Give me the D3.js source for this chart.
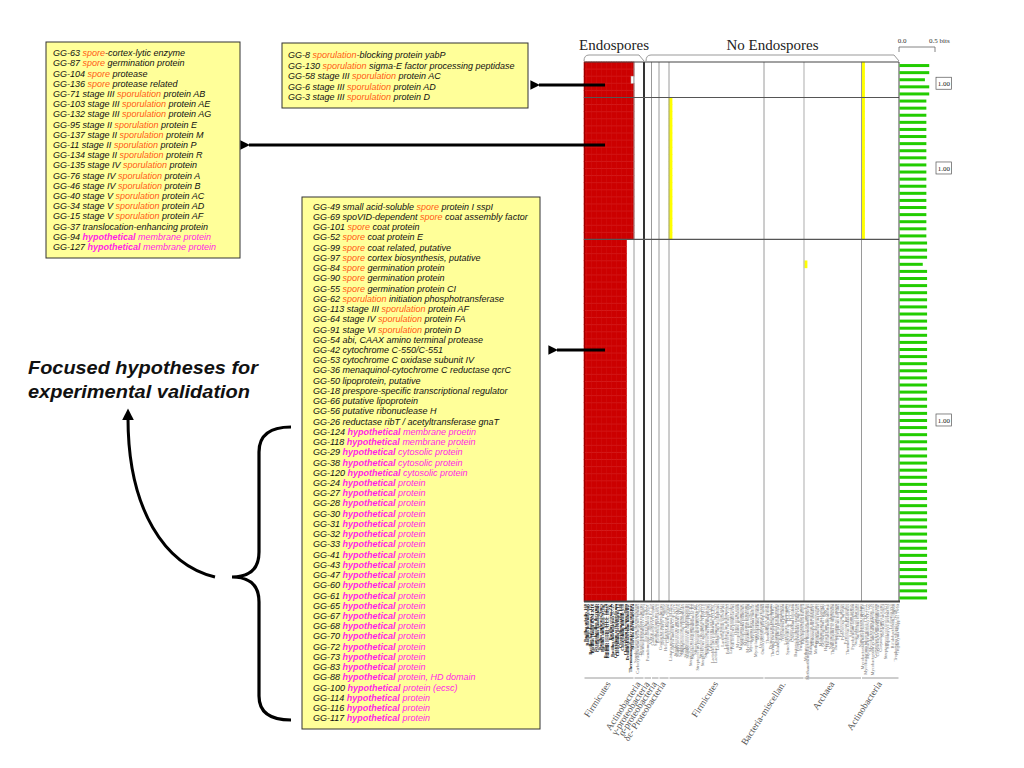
<!DOCTYPE html>
<html>
<head>
<meta charset="utf-8">
<script src="https://cdn.jsdelivr.net/npm/d3@7"></script>
<style>
  body { margin: 0; background: #fff; }
  text { white-space: pre; }
</style>
</head>
<body>
<div id="chart"></div>
<script>
// Gene groups (rows of the profile, top to bottom)
const topBoxGenes = [
  'GG-8 sporulation-blocking protein yabP',
  'GG-130 sporulation sigma-E factor processing peptidase',
  'GG-58 stage III sporulation protein AC',
  'GG-6 stage III sporulation protein AD',
  'GG-3 stage III sporulation protein D',
];
const leftBoxGenes = [
  'GG-63 spore-cortex-lytic enzyme',
  'GG-87 spore germination protein',
  'GG-104 spore protease',
  'GG-136 spore protease related',
  'GG-71 stage III sporulation protein AB',
  'GG-103 stage III sporulation protein AE',
  'GG-132 stage III sporulation protein AG',
  'GG-95 stage II sporulation protein E',
  'GG-137 stage II sporulation protein M',
  'GG-11 stage II sporulation protein P',
  'GG-134 stage II sporulation protein R',
  'GG-135 stage IV sporulation protein',
  'GG-76 stage IV sporulation protein A',
  'GG-46 stage IV sporulation protein B',
  'GG-40 stage V sporulation protein AC',
  'GG-34 stage V sporulation protein AD',
  'GG-15 stage V sporulation protein AF',
  'GG-37 translocation-enhancing protein',
  'GG-94 hypothetical membrane protein',
  'GG-127 hypothetical membrane protein',
];
const bigBoxGenes = [
  'GG-49 small acid-soluble spore protein I sspI',
  'GG-69 spoVID-dependent spore coat assembly factor',
  'GG-101 spore coat protein',
  'GG-52 spore coat protein E',
  'GG-99 spore coat related, putative',
  'GG-97 spore cortex biosynthesis, putative',
  'GG-84 spore germination protein',
  'GG-90 spore germination protein',
  'GG-55 spore germination protein CI',
  'GG-62 sporulation initiation phosphotransferase',
  'GG-113 stage III sporulation protein AF',
  'GG-64 stage IV sporulation protein FA',
  'GG-91 stage VI sporulation protein D',
  'GG-54 abi, CAAX amino terminal protease',
  'GG-42 cytochrome C-550/C-551',
  'GG-53 cytochrome C oxidase subunit IV',
  'GG-36 menaquinol-cytochrome C reductase qcrC',
  'GG-50 lipoprotein, putative',
  'GG-18 prespore-specific transcriptional regulator',
  'GG-66 putative lipoprotein',
  'GG-56 putative ribonuclease H',
  'GG-26 reductase ribT / acetyltransferase gnaT',
  'GG-124 hypothetical membrane proetin',
  'GG-118 hypothetical membrane protein',
  'GG-29 hypothetical cytosolic protein',
  'GG-38 hypothetical cytosolic protein',
  'GG-120 hypothetical cytosolic protein',
  'GG-24 hypothetical protein',
  'GG-27 hypothetical protein',
  'GG-28 hypothetical protein',
  'GG-30 hypothetical protein',
  'GG-31 hypothetical protein',
  'GG-32 hypothetical protein',
  'GG-33 hypothetical protein',
  'GG-41 hypothetical protein',
  'GG-43 hypothetical protein',
  'GG-47 hypothetical protein',
  'GG-60 hypothetical protein',
  'GG-61 hypothetical protein',
  'GG-65 hypothetical protein',
  'GG-67 hypothetical protein',
  'GG-68 hypothetical protein',
  'GG-70 hypothetical protein',
  'GG-72 hypothetical protein',
  'GG-73 hypothetical protein',
  'GG-83 hypothetical protein',
  'GG-88 hypothetical protein, HD domain',
  'GG-100 hypothetical protein (ecsc)',
  'GG-114 hypothetical protein',
  'GG-116 hypothetical protein',
  'GG-117 hypothetical protein',
];

// Specificity (bits) per gene, same order as rows
const topBits = [0.42, 0.42, 0.36, 0.42, 0.42];
const leftBits = [0.38, 0.38, 0.38, 0.38, 0.38, 0.38, 0.38, 0.38, 0.38, 0.38,
  0.38, 0.38, 0.38, 0.38, 0.38, 0.38, 0.38, 0.38, 0.38, 0.38];
const bigBits = [0.39, 0.39, 0.39, 0.33, 0.39, 0.39, 0.39, 0.39, 0.39, 0.39,
  0.39, 0.39, 0.39, 0.39, 0.39, 0.39, 0.39, 0.39, 0.39, 0.39,
  0.39, 0.39, 0.39, 0.39, 0.39, 0.39, 0.39, 0.39, 0.39, 0.39,
  0.39, 0.39, 0.39, 0.39, 0.39, 0.39, 0.39, 0.39, 0.39, 0.39,
  0.39, 0.39, 0.39, 0.39, 0.39, 0.39, 0.39, 0.39, 0.39, 0.39, 0.39];
const sectionScore = ['1.00', '1.00', '1.00'];

// Genomes (columns), by taxonomic group
const groupNames = ['Firmicutes', 'Actinobacteria', 'γ-proteobacteria', 'α-proteobacteria',
  'δε- Proteobacteria', 'Firmicutes', 'Bacteria-miscellan.', 'Archaea', 'Actinobacteria'];
const groupEndospore = [true, true, false, false, false, false, false, false, false];
const groupGenomes = [
  ['Bacillus subtilis 168', 'Bacillus licheniformis', 'Bacillus halodurans C-125', 'Bacillus clausii KSM-K16',
    'Oceanobacillus iheyensis', 'Geobacillus kaustophilus', 'Bacillus anthracis Ames', 'Bacillus anthracis Sterne',
    'Bacillus cereus ATCC 14579', 'Bacillus cereus ATCC 10987', 'Bacillus cereus ZK', 'Bacillus thuringiensis 97-27',
    'Clostridium acetobutylicum', 'Clostridium perfringens 13', 'Clostridium tetani E88', 'Clostridium difficile 630',
    'Clostridium thermocellum', 'Desulfitobacterium hafniense', 'Thermoanaerobacter tengcongensis', 'Moorella thermoacetica'],
  ['Symbiobacterium thermophilum', 'Carboxydothermus hydrogenoformans', 'Desulfotomaculum reducens', 'Thermoactinomyces vulgaris'],
  ['Escherichia coli K12', 'Pseudomonas aeruginosa PAO1', 'Vibrio cholerae El Tor'],
  ['Caulobacter crescentus', 'Sinorhizobium meliloti', 'Rickettsia prowazekii'],
  ['Geobacter sulfurreducens', 'Desulfovibrio vulgaris', 'Helicobacter pylori 26695', 'Campylobacter jejuni'],
  ['Listeria monocytogenes EGD-e', 'Listeria innocua Clip11262', 'Staphylococcus aureus N315', 'Staphylococcus aureus Mu50',
    'Staphylococcus aureus MW2', 'Staphylococcus epidermidis', 'Staphylococcus haemolyticus', 'Staphylococcus saprophyticus',
    'Streptococcus pneumoniae TIGR4', 'Streptococcus pneumoniae R6', 'Streptococcus pyogenes M1', 'Streptococcus pyogenes MGAS8232',
    'Streptococcus agalactiae 2603', 'Streptococcus agalactiae NEM316', 'Streptococcus mutans UA159', 'Streptococcus thermophilus',
    'Lactococcus lactis IL1403', 'Lactobacillus plantarum WCFS1', 'Lactobacillus johnsonii NCC533', 'Lactobacillus acidophilus',
    'Lactobacillus sakei', 'Lactobacillus salivarius', 'Lactobacillus delbrueckii', 'Enterococcus faecalis V583',
    'Leuconostoc mesenteroides', 'Pediococcus pentosaceus', 'Oenococcus oeni', 'Mycoplasma genitalium',
    'Mycoplasma pneumoniae', 'Mycoplasma pulmonis', 'Mycoplasma penetrans', 'Mycoplasma gallisepticum',
    'Mycoplasma mycoides SC', 'Mycoplasma mobile', 'Mycoplasma hyopneumoniae', 'Mesoplasma florum',
    'Ureaplasma urealyticum', 'Onion yellows phytoplasma'],
  ['Aquifex aeolicus', 'Thermotoga maritima', 'Deinococcus radiodurans', 'Thermus thermophilus HB27',
    'Chlamydia trachomatis', 'Chlamydophila pneumoniae', 'Borrelia burgdorferi', 'Treponema pallidum',
    'Leptospira interrogans', 'Synechocystis sp. PCC6803', 'Nostoc sp. PCC7120', 'Chlorobium tepidum',
    'Bacteroides thetaiotaomicron', 'Porphyromonas gingivalis', 'Fusobacterium nucleatum', 'Rhodopirellula baltica'],
  ['Methanocaldococcus jannaschii', 'Methanothermobacter thermautotrophicus', 'Methanococcus maripaludis', 'Methanopyrus kandleri',
    'Methanosarcina acetivorans', 'Methanosarcina mazei', 'Methanosarcina barkeri', 'Archaeoglobus fulgidus',
    'Halobacterium sp. NRC-1', 'Haloarcula marismortui', 'Natronomonas pharaonis', 'Thermoplasma acidophilum',
    'Thermoplasma volcanium', 'Picrophilus torridus', 'Pyrococcus abyssi', 'Pyrococcus furiosus',
    'Pyrococcus horikoshii', 'Thermococcus kodakarensis', 'Aeropyrum pernix', 'Pyrobaculum aerophilum',
    'Sulfolobus solfataricus', 'Sulfolobus tokodaii', 'Nanoarchaeum equitans'],
  ['Mycobacterium tuberculosis H37Rv', 'Mycobacterium tuberculosis CDC1551', 'Mycobacterium bovis AF2122', 'Mycobacterium leprae TN',
    'Mycobacterium avium paratuberculosis', 'Corynebacterium glutamicum', 'Corynebacterium diphtheriae', 'Corynebacterium efficiens',
    'Nocardia farcinica', 'Streptomyces coelicolor A3(2)', 'Streptomyces avermitilis', 'Leifsonia xyli',
    'Bifidobacterium longum', 'Tropheryma whipplei TW08/27', 'Tropheryma whipplei Twist'],
];

// Profile: genome presence per section (number of leading genomes that share the gene)
const sectionPresentCols = [20, 20, 17];
// extra hits outside the endospore group: [firstRow, lastRow, column]
const yellowRuns = [[5, 24, 34], [0, 24, 111], [28, 28, 88]];
// missing hits inside the endospore block: [row, column]
const missingCells = [[2, 19]];

const ORANGE = '#ff5a14';
const MAGENTA = '#ff1ee6';
const RED = '#cc0000';
const YELLOW = '#ffff00';
const GREEN = '#22cc00';

const W = 1024;
const H = 768;
const svg = d3.select('#chart').append('svg')
  .attr('width', W)
  .attr('height', H);
svg.append('rect').attr('width', W).attr('height', H).attr('fill', '#fff');

// ---------- heat map ----------
const sections = [topBoxGenes, leftBoxGenes, bigBoxGenes];
const rows = [];
sections.forEach((genes, s) => genes.forEach((g) => rows.push({ gene: g, section: s })));
const bits = topBits.concat(leftBits, bigBits);

const columns = [];
groupGenomes.forEach((list, gi) => list.forEach((name) => columns.push({ name, group: gi })));

const x = d3.scaleBand().domain(d3.range(columns.length)).range([584, 899]);
const y = d3.scaleBand().domain(d3.range(rows.length)).range([62, 601.5]);
const xBits = d3.scaleLinear().domain([0, 0.5]).range([899, 935]);

const cells = [];
rows.forEach((r, ri) => {
  for (let c = 0; c < sectionPresentCols[r.section]; c += 1) {
    if (!missingCells.some(m => m[0] === ri && m[1] === c)) cells.push({ r: ri, c, color: RED });
  }
});
yellowRuns.forEach(([r0, r1, c]) => {
  for (let r = r0; r <= r1; r += 1) cells.push({ r, c, color: YELLOW });
});

const heat = svg.append('g');

heat.selectAll('.cell')
  .data(cells)
  .enter()
  .append('rect')
  .attr('x', d => x(d.c) - 0.3)
  .attr('y', d => y(d.r) - 0.3)
  .attr('width', d => x.bandwidth() + (d.color === YELLOW ? 1.2 : 0.6))
  .attr('height', y.bandwidth() + 0.6)
  .attr('fill', d => d.color);

// faint row separators inside the red block
heat.selectAll('.sep')
  .data(rows.slice(1).map((r, i) => ({ r: i + 1, section: r.section })))
  .enter()
  .append('line')
  .attr('x1', x(0))
  .attr('x2', d => x(0) + x.bandwidth() * sectionPresentCols[d.section])
  .attr('y1', d => y(d.r))
  .attr('y2', d => y(d.r))
  .style('stroke', '#e04848')
  .style('stroke-opacity', 0.6)
  .style('stroke-width', '0.5px');

// missing cells drawn as small outlined boxes
heat.selectAll('.miss')
  .data(missingCells)
  .enter()
  .append('rect')
  .attr('x', d => x(d[1]) - 0.5)
  .attr('y', d => y(d[0]))
  .attr('width', x.bandwidth())
  .attr('height', y.bandwidth())
  .attr('fill', '#fff')
  .attr('stroke', '#bbb')
  .attr('stroke-width', 0.5);

heat.append('line')
  .attr('x1', 584.5).attr('x2', 584.5).attr('y1', 62).attr('y2', 601)
  .style('stroke', '#990000').style('stroke-width', '1px');

// group boundaries (vertical)
let acc = 0;
const bounds = [];
groupGenomes.forEach((list, gi) => {
  acc += list.length;
  if (gi < groupGenomes.length - 1) bounds.push({ col: acc, gi });
});
heat.selectAll('.vb')
  .data(bounds)
  .enter()
  .append('line')
  .attr('x1', d => x(d.col))
  .attr('x2', d => x(d.col))
  .attr('y1', 62)
  .attr('y2', 601)
  .style('stroke', d => (groupEndospore[d.gi] && !groupEndospore[d.gi + 1] ? '#000' : (d.gi === 6 ? '#c4c4c4' : '#9a9a9a')))
  .style('stroke-width', d => (groupEndospore[d.gi] && !groupEndospore[d.gi + 1] ? '1.6px' : (d.gi === 6 ? '1.4px' : '1px')));

// section dividers
const sectionStarts = [0, topBoxGenes.length, topBoxGenes.length + leftBoxGenes.length];
heat.selectAll('.hb')
  .data(sectionStarts.slice(1))
  .enter()
  .append('line')
  .attr('x1', 584).attr('x2', 899)
  .attr('y1', d => y(d)).attr('y2', d => y(d))
  .style('stroke', '#555').style('stroke-width', '1.2px');

// frame
heat.append('line').attr('x1', 584).attr('x2', 899).attr('y1', 62).attr('y2', 62)
  .style('stroke', '#444').style('stroke-width', '1.2px');
heat.append('line').attr('x1', 584).attr('x2', 900).attr('y1', 601.5).attr('y2', 601.5)
  .style('stroke', '#444').style('stroke-width', '2px');
heat.append('line').attr('x1', 899).attr('x2', 899).attr('y1', 62).attr('y2', 601)
  .style('stroke', '#444').style('stroke-width', '1px');

// specificity bars
svg.selectAll('.bit')
  .data(bits)
  .enter()
  .append('rect')
  .attr('x', 899.5)
  .attr('y', (d, i) => y(i) + y.bandwidth() / 2 - 1.5)
  .attr('width', d => xBits(d) - 899.5)
  .attr('height', 3)
  .attr('fill', GREEN);

// bits scale
const scaleG = svg.append('g').attr('transform', 'translate(0,47)');
scaleG.append('line').attr('x1', xBits(0)).attr('x2', xBits(0.5)).style('stroke', '#666').style('stroke-width', '0.8px');
scaleG.selectAll('.tk').data([0, 0.5]).enter().append('line')
  .attr('x1', d => xBits(d)).attr('x2', d => xBits(d)).attr('y1', 0).attr('y2', 5)
  .style('stroke', '#666').style('stroke-width', '0.8px');
scaleG.append('text').attr('x', xBits(0) + 3).attr('y', -4).attr('text-anchor', 'middle')
  .style('font-family', 'Liberation Serif').style('font-size', '7px').attr('fill', '#333').text('0.0');
scaleG.append('text').attr('x', xBits(0.5) - 6).attr('y', -4)
  .style('font-family', 'Liberation Serif').style('font-size', '7px').attr('fill', '#333').text('0.5 bits');

// per-section score boxes
sectionScore.forEach((s, i) => {
  const r0 = sectionStarts[i];
  const r1 = r0 + sections[i].length;
  const cy = (y(r0) + y(r1 - 1) + y.bandwidth()) / 2 + (i === 0 ? 4 : 0);
  svg.append('rect').attr('x', 936).attr('y', cy - 6.5).attr('width', 15.5).attr('height', 12)
    .attr('fill', '#fff').attr('stroke', '#555').attr('stroke-width', 0.7);
  svg.append('text').attr('x', 943.8).attr('y', cy + 2.5).attr('text-anchor', 'middle')
    .style('font-family', 'Liberation Serif').style('font-size', '7px').attr('fill', '#222').text(s);
});

// header with braces
const endoCols = d3.sum(groupGenomes.filter((g, i) => groupEndospore[i]), g => g.length);
const braces = [
  { label: 'Endospores', x0: x(0), x1: x(endoCols) },
  { label: 'No Endospores', x0: x(endoCols) + 2, x1: 899 },
];
braces.forEach((b) => {
  svg.append('path')
    .attr('d', `M${b.x0},61 Q${b.x0},55 ${b.x0 + 5},55 L${b.x1 - 5},55 L${b.x1},61`)
    .attr('fill', 'none').attr('stroke', '#999').attr('stroke-width', 1);
  svg.append('text').attr('x', (b.x0 + b.x1) / 2).attr('y', 50).attr('text-anchor', 'middle')
    .style('font-family', 'Liberation Serif').style('font-size', '15px').attr('fill', '#222').text(b.label);
});

// genome labels
svg.selectAll('.gl')
  .data(columns)
  .enter()
  .append('text')
  .attr('transform', (d, i) => `translate(${x(i) + x.bandwidth() / 2 + 1.5},604) rotate(-90)`)
  .attr('text-anchor', 'end')
  .style('font-family', 'Liberation Serif')
  .style('font-size', '4.5px')
  .style('font-weight', d => (d.group === 0 ? 'bold' : 'normal'))
  .attr('fill', d => (d.group === 0 ? '#111' : '#777'))
  .text(d => d.name);

// group underline and labels
let start = 0;
groupGenomes.forEach((list, gi) => {
  const gx0 = x(start);
  const gx1 = x(start + list.length - 1) + x.bandwidth();
  start += list.length;
  svg.append('line').attr('x1', gx0 + 0.5).attr('x2', gx1 - 0.5).attr('y1', 678).attr('y2', 678)
    .style('stroke', '#9a9a9a').style('stroke-width', '1px');
  svg.append('text')
    .attr('transform', `translate(${(gx0 + gx1) / 2 + 2},684) rotate(-57)`)
    .attr('text-anchor', 'end')
    .style('font-family', 'Liberation Serif')
    .style('font-size', '9.5px')
    .attr('fill', '#555')
    .text(groupNames[gi]);
});

// ---------- annotation boxes ----------
function geneLine(g, tx, ty, label) {
  const m = label.match(/^(GG-\d+ )(.*)$/);
  const t = g.append('text').attr('x', tx).attr('y', ty);
  t.append('tspan').attr('fill', '#111').text(m[1]);
  const rest = m[2];
  if (rest.startsWith('hypothetical')) {
    t.append('tspan').attr('fill', MAGENTA).style('font-weight', 'bold').text('hypothetical');
    t.append('tspan').attr('fill', MAGENTA).text(rest.slice(12));
  } else {
    rest.split(/\b(sporulation|spore)\b/).forEach((part, i) => {
      if (!part) return;
      t.append('tspan').attr('fill', i % 2 ? ORANGE : '#111').text(part);
    });
  }
}

const boxes = [
  { genes: leftBoxGenes, x0: 46, y0: 42, x1: 240, y1: 258, tx: 53, ty: 56.2, step: 10.2 },
  { genes: topBoxGenes, x0: 282, y0: 43, x1: 528, y1: 108, tx: 288, ty: 58, step: 10.6 },
  { genes: bigBoxGenes, x0: 302, y0: 197, x1: 540, y1: 729, tx: 313, ty: 209.8, step: 10.23 },
];
boxes.forEach((b) => {
  const g = svg.append('g')
    .style('font-family', '"Liberation Sans", Arial, sans-serif')
    .style('font-style', 'italic')
    .style('font-size', '9px');
  g.append('rect').attr('x', b.x0).attr('y', b.y0).attr('width', b.x1 - b.x0).attr('height', b.y1 - b.y0)
    .attr('fill', '#ffff99').attr('stroke', '#333').attr('stroke-width', 1);
  b.genes.forEach((gene, i) => geneLine(g, b.tx, b.ty + i * b.step, gene));
});

// arrows from profile to boxes
const defs = svg.append('defs');
defs.append('marker').attr('id', 'head').attr('viewBox', '0 0 10 10')
  .attr('refX', 1).attr('refY', 5).attr('markerWidth', 4.5).attr('markerHeight', 3.2)
  .attr('orient', 'auto-start-reverse')
  .append('path').attr('d', 'M10,0 L0,5 L10,10 z').attr('fill', '#000');
const arrows = [[605, 85, 533], [605, 145, 243], [605, 350, 551]];
arrows.forEach(([ax0, ay, ax1]) => {
  svg.append('line').attr('x1', ax0).attr('x2', ax1 + 6).attr('y1', ay).attr('y2', ay)
    .style('stroke', '#000').style('stroke-width', '3px')
    .attr('marker-end', 'url(#head)');
});

// ---------- left annotation ----------
svg.append('text').attr('x', 28).attr('y', 374)
  .style('font-family', '"Liberation Sans", Arial, sans-serif').style('font-style', 'italic')
  .style('font-weight', 'bold').style('font-size', '17.5px').attr('fill', '#111')
  .attr('textLength', 230).attr('lengthAdjust', 'spacingAndGlyphs')
  .text('Focused hypotheses for');
svg.append('text').attr('x', 28).attr('y', 398)
  .style('font-family', '"Liberation Sans", Arial, sans-serif').style('font-style', 'italic')
  .style('font-weight', 'bold').style('font-size', '17.5px').attr('fill', '#111')
  .attr('textLength', 222).attr('lengthAdjust', 'spacingAndGlyphs')
  .text('experimental validation');

defs.append('marker').attr('id', 'tip').attr('viewBox', '0 0 10 10')
  .attr('refX', 2).attr('refY', 5).attr('markerWidth', 4).attr('markerHeight', 4)
  .attr('orient', 'auto')
  .append('path').attr('d', 'M0,0 L10,5 L0,10 z').attr('fill', '#000');
svg.append('path')
  .attr('d', 'M215,577 C165,565 128,510 128,418')
  .attr('fill', 'none').attr('stroke', '#000').attr('stroke-width', 3)
  .attr('marker-end', 'url(#tip)');

svg.append('path')
  .attr('d', 'M291,427 Q259,427 259,452 L259,552 Q259,577 232,577 Q259,577 259,602 L259,696 Q259,720 291,720')
  .attr('fill', 'none').attr('stroke', '#000').attr('stroke-width', 3.2);
</script>
</body>
</html>
